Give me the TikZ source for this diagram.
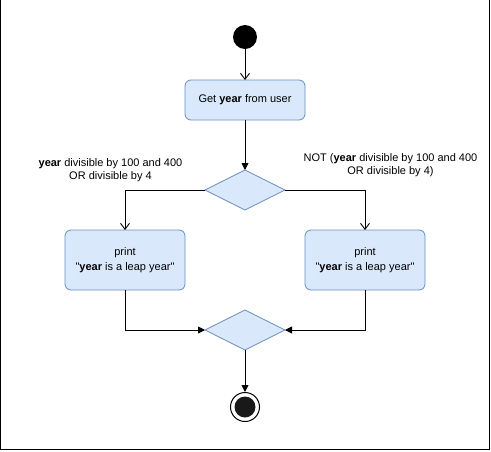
\documentclass[tikz,border=0pt]{standalone}
\usepackage{fontspec}
\setmainfont{Liberation Sans}
\usetikzlibrary{arrows.meta}
\usetikzlibrary{positioning}
\usetikzlibrary{shapes.geometric}

\definecolor{actfill}{HTML}{DAE8FC}
\definecolor{actdraw}{HTML}{6C8EBF}

\tikzset{
  activity/.style={rectangle, rounded corners=6pt, draw=actdraw, fill=actfill,
    line width=0.8pt, minimum width=120pt, align=center, inner sep=0pt,
    outer sep=0pt, font=\fontsize{11}{15}\selectfont},
  decision/.style={diamond, draw=actdraw, fill=actfill, line width=0.8pt,
    minimum width=80pt, minimum height=40pt, inner sep=0pt, outer sep=0pt},
  initial/.style={circle, fill=black, minimum size=24pt, inner sep=0pt, outer sep=0pt},
  final/.style={circle, draw=black, line width=1pt, fill=white, minimum size=29pt,
    inner sep=0pt, outer sep=0.5pt,
    path picture={\fill[black!90] (path picture bounding box.center) circle (10.5pt);}},
  guard/.style={align=center, font=\fontsize{11}{13}\selectfont},
  flow/.style={line width=0.9pt, -{Triangle[length=7pt,width=7pt]}},
  openflow/.style={line width=0.9pt, -{Straight Barb[length=6pt,width=9pt,line width=0.9pt]}}
}

\begin{document}
\begin{tikzpicture}[x=1pt, y=-1pt]
  \useasboundingbox (0,0) rectangle (491,451);
  \draw[line width=1pt] (0.5,0) -- (0.5,449.5) -- (489.5,449.5) -- (489.5,0);

  \node[initial] (start) at (245,37) {};
  \node[activity, minimum height=40pt, below=31pt of start] (getyear)
    {Get \textbf{year} from user};
  \node[decision, below=50pt of getyear] (check) {};

  \node[activity, minimum height=60pt, below=20pt of check, xshift=-120pt] (isleap)
    {print\\\textquotedbl\textbf{year} is a leap year\textquotedbl};
  \node[activity, minimum height=60pt, below=20pt of check, xshift=120pt] (notleap)
    {print\\\textquotedbl\textbf{year} is a leap year\textquotedbl};

  \node[decision, below=100pt of check] (merge) {};
  \node[final, below=42pt of merge] (stop) {};

  % guards
  \node[guard] (isleaplbl) at (110.5,170)
    {\textbf{year} divisible by 100 and 400\\OR divisible by 4};
  \node[guard] (notleaplbl) at (390.5,165)
    {NOT (\textbf{year} divisible by 100 and 400\\OR divisible by 4)};

  \draw[openflow] (start) -- (getyear);
  \draw[flow] (getyear) -- (check);
  \draw[openflow] (check.west) -| (isleap.north);
  \draw[openflow] (check.east) -| (notleap.north);
  \draw[flow] (isleap.south) |- (merge.west);
  \draw[flow] (notleap.south) |- (merge.east);
  \draw[flow] (merge) -- (stop);
\end{tikzpicture}
\end{document}
